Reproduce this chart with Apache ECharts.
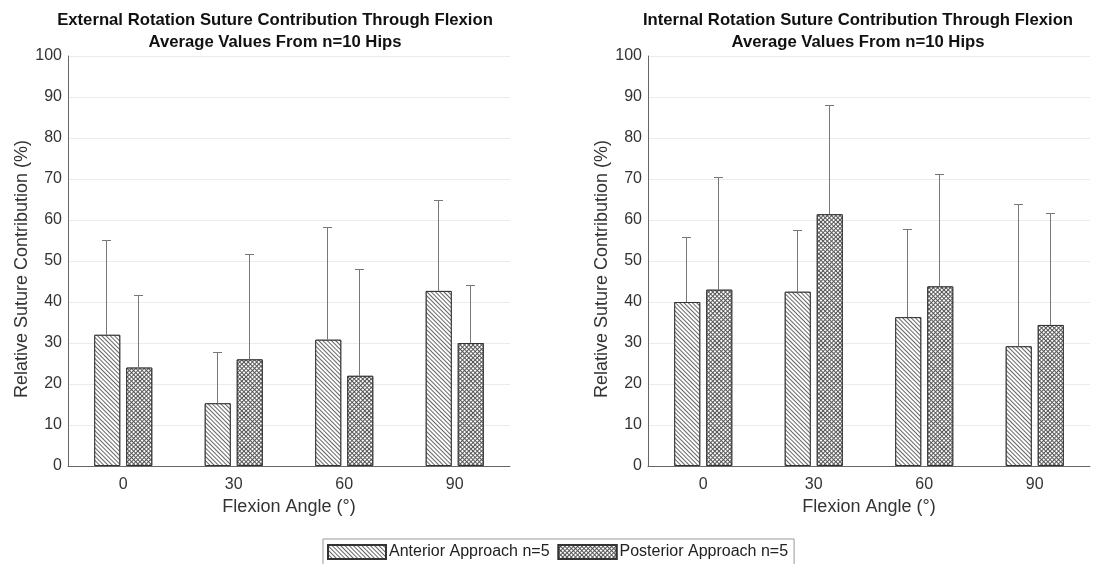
<!DOCTYPE html>
<html>
<head>
<meta charset="utf-8">
<title>Suture Contribution Through Flexion</title>
<script src="https://cdn.jsdelivr.net/npm/echarts@6/dist/echarts.min.js"></script>
<style>
  html, body { margin: 0; padding: 0; background: #fff; }
  #chart { width: 1109px; height: 564px; }
</style>
</head>
<body>
<div id="chart"></div>
<script>
// Flexion angles (degrees) on the category axis
const categories = ['0', '30', '60', '90'];

// External rotation: group means and standard deviations (%)
const erAnteriorMean = [32.0, 15.3, 30.8, 42.7];
const erAnteriorSd   = [23.0, 12.4, 27.5, 22.1];
const erPosteriorMean = [24.0, 26.0, 22.0, 30.0];
const erPosteriorSd   = [17.7, 25.8, 26.0, 14.2];

// Internal rotation: group means and standard deviations (%)
const irAnteriorMean = [40.0, 42.5, 36.3, 29.2];
const irAnteriorSd   = [15.8, 15.0, 21.4, 34.7];
const irPosteriorMean = [43.0, 61.4, 43.8, 34.4];
const irPosteriorSd   = [27.4, 26.6, 27.4, 27.2];

const yTicks = { min: 0, max: 100, interval: 10 };

const ANTERIOR = 'Anterior Approach n=5';
const POSTERIOR = 'Posterior Approach n=5';
const FONT = '"Liberation Sans", Arial, Helvetica, sans-serif';

const BAR_W = 26;      // bar width in px
const BAR_GAP = 6;     // gap between the two bars of a group in px
const CAP_W = 9;       // error bar cap width in px

// Hatch patterns
const hatchDiagonal = {
  symbol: 'rect', symbolSize: 1,
  color: '#666', backgroundColor: '#fff',
  dashArrayX: [1, 0], dashArrayY: [1, 2],
  rotation: Math.PI / 4
};
const hatchMesh = {
  symbol: 'rect', symbolSize: 1,
  color: '#fff', backgroundColor: '#555',
  dashArrayX: [1.5, 1], dashArrayY: [1.5, 1],
  rotation: Math.PI / 4
};

function barSeries(name, values, gridIdx, decal) {
  return {
    name: name,
    type: 'bar',
    xAxisIndex: gridIdx, yAxisIndex: gridIdx,
    barWidth: BAR_W,
    barGap: (BAR_GAP / BAR_W * 100).toFixed(1) + '%',
    data: values,
    itemStyle: { color: '#fff', borderColor: '#333', borderWidth: 1, decal: decal },
    emphasis: { disabled: true },
    z: 2
  };
}

// Upper-only error bars drawn from the bar top to mean + SD
function errorSeries(means, sds, gridIdx, slot) {
  return {
    type: 'custom',
    xAxisIndex: gridIdx, yAxisIndex: gridIdx,
    silent: true,
    z: 3,
    data: means.map((m, i) => [i, m, +(m + sds[i]).toFixed(2)]),
    renderItem: function (params, api) {
      const base = api.coord([api.value(0), api.value(1)]);
      const tip = api.coord([api.value(0), api.value(2)]);
      const x = Math.round(base[0] + (slot - 0.5) * (BAR_W + BAR_GAP)) - 0.5;
      const y0 = base[1];
      const y1 = Math.round(tip[1]) + 0.5;
      const style = { stroke: '#777', lineWidth: 1 };
      return {
        type: 'group',
        children: [
          { type: 'line', shape: { x1: x, y1: y0, x2: x, y2: y1 }, style: style },
          { type: 'line', shape: { x1: x - CAP_W / 2, y1: y1, x2: x + CAP_W / 2, y2: y1 }, style: style }
        ]
      };
    }
  };
}

function xAxis(gridIdx) {
  return {
    type: 'category', gridIndex: gridIdx, data: categories,
    name: 'Flexion Angle (°)', nameLocation: 'middle', nameGap: 32,
    nameTextStyle: { fontFamily: FONT, fontSize: 18, color: '#333' },
    axisLine: { show: true, lineStyle: { color: '#666', width: 1 } },
    axisTick: { show: false },
    axisLabel: { fontFamily: FONT, fontSize: 16, color: '#333', margin: 11 },
    splitLine: { show: false }
  };
}

function yAxis(gridIdx) {
  return {
    type: 'value', gridIndex: gridIdx,
    min: yTicks.min, max: yTicks.max, interval: yTicks.interval,
    name: 'Relative Suture Contribution (%)', nameLocation: 'middle', nameGap: 36,
    nameTextStyle: { fontFamily: FONT, fontSize: 18, color: '#333', padding: [0, 16, 0, 0] },
    axisLine: { show: true, lineStyle: { color: '#666', width: 1 } },
    axisTick: { show: false },
    axisLabel: { fontFamily: FONT, fontSize: 16, color: '#333', margin: 6 },
    splitLine: { show: true, lineStyle: { color: '#ebebeb', width: 1 } }
  };
}

const titleStyle = { fontFamily: FONT, fontSize: 16.7, fontWeight: 'bold', color: '#111', lineHeight: 22 };

const chart = echarts.init(document.getElementById('chart'), null, { renderer: 'canvas' });
chart.setOption({
  animation: false,
  backgroundColor: '#fff',
  title: [
    {
      text: 'External Rotation Suture Contribution Through Flexion\nAverage Values From n=10 Hips',
      left: 270, top: 4, textAlign: 'center', textStyle: titleStyle
    },
    {
      text: 'Internal Rotation Suture Contribution Through Flexion\nAverage Values From n=10 Hips',
      left: 853, top: 4, textAlign: 'center', textStyle: titleStyle
    }
  ],
  legend: {
    data: [ANTERIOR, POSTERIOR],
    left: 323, top: 539,
    orient: 'horizontal',
    icon: 'rect',
    itemWidth: 58, itemHeight: 14, itemGap: 8,
    padding: [5, 6, 6, 4],
    borderColor: '#999', borderWidth: 1,
    selectedMode: false,
    textStyle: { fontFamily: FONT, fontSize: 16, color: '#222', padding: [0, 0, 0, -2] }
  },
  grid: [
    { left: 68, top: 56, width: 442, height: 410 },
    { left: 648, top: 56, width: 442, height: 410 }
  ],
  xAxis: [xAxis(0), xAxis(1)],
  yAxis: [yAxis(0), yAxis(1)],
  series: [
    barSeries(ANTERIOR, erAnteriorMean, 0, hatchDiagonal),
    barSeries(POSTERIOR, erPosteriorMean, 0, hatchMesh),
    barSeries(ANTERIOR, irAnteriorMean, 1, hatchDiagonal),
    barSeries(POSTERIOR, irPosteriorMean, 1, hatchMesh),
    errorSeries(erAnteriorMean, erAnteriorSd, 0, 0),
    errorSeries(erPosteriorMean, erPosteriorSd, 0, 1),
    errorSeries(irAnteriorMean, irAnteriorSd, 1, 0),
    errorSeries(irPosteriorMean, irPosteriorSd, 1, 1)
  ]
});
</script>
</body>
</html>
